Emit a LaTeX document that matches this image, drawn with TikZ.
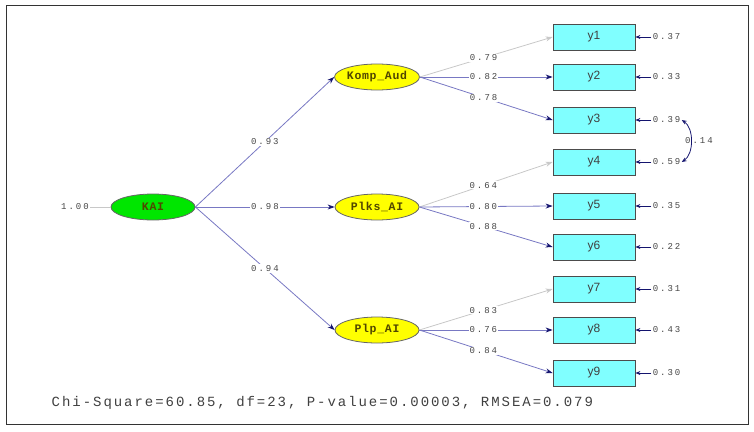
\documentclass[tikz,border=0pt]{standalone}
\usepackage{fontspec}
\setmonofont{Liberation Mono}
\newfontfamily\monosp[LetterSpace=22]{Liberation Mono}
\newfontfamily\monochi[LetterSpace=14]{Liberation Mono}
\newfontfamily\monoel[LetterSpace=6]{Liberation Mono}
\setsansfont{Liberation Sans}
\usetikzlibrary{arrows.meta,shapes.geometric}
\definecolor{ln}{RGB}{120,120,195}
\definecolor{gl}{RGB}{200,200,200}
\definecolor{tip}{RGB}{20,20,110}
\definecolor{txt}{RGB}{70,70,70}
\definecolor{box}{RGB}{128,255,255}
\definecolor{yel}{RGB}{255,255,0}
\definecolor{grn}{RGB}{0,230,0}
\definecolor{olv}{RGB}{80,70,0}
\begin{document}
\begin{tikzpicture}[x=1pt,y=-1pt,line width=0.8pt,
 lat/.style={ellipse,draw=black!60,minimum width=84pt,minimum height=26pt,inner sep=0pt,font=\monoel\bfseries\fontsize{11.5}{12}\selectfont,text=olv},
 obs/.style={rectangle,draw=black!70,fill=box,minimum width=82pt,minimum height=26pt,inner sep=0pt,font=\sffamily\fontsize{12}{13}\selectfont,text=black!75},
 num/.style={font=\monosp\fontsize{9}{10}\selectfont,text=txt,fill=white,inner sep=1pt},
 pth/.style={draw=ln,-{Stealth[length=7pt,width=5pt,color=tip]}},
 fix/.style={draw=gl,-{Stealth[length=7pt,width=5pt,color=gl]}},
 err/.style={draw=tip,-{Stealth[length=5pt,width=4pt,color=tip]}}]
\useasboundingbox (0,0) rectangle (754,431);
\draw[black!80,line width=0.6pt] (6,5) rectangle (748,424);
\node[lat,fill=grn] (kai) at (153,207) {KAI};
\node[lat,fill=yel] (ka) at (377,77) {Komp\_Aud};
\node[lat,fill=yel] (pk) at (377,207) {Plks\_AI};
\node[lat,fill=yel] (pl) at (377,330) {Plp\_AI};
\foreach \i/\y in {1/37,2/77,3/120,4/162,5/206,6/247,7/289,8/330,9/373}
  \node[obs] (y\i) at (594,\y) {y\i};
\foreach \i/\v in {1/0.37,2/0.33,3/0.39,4/0.59,5/0.35,6/0.22,7/0.31,8/0.43,9/0.30}{
  \node[num,anchor=west] (e\i) at (y\i.east) [xshift=16pt] {\v};
  \draw[err] (e\i.west) -- (y\i.east);}
\node[num] (v) at (75,207) {1.00};
\draw[gl] (v.east) -- (kai.west);
\draw[pth] (kai.east) -- node[num,pos=0.5] {0.93} (ka.west);
\draw[pth] (kai.east) -- node[num,pos=0.5] {0.98} (pk.west);
\draw[pth] (kai.east) -- node[num,pos=0.5] {0.94} (pl.west);
\foreach \f/\a/\b/\c/\la/\lb/\lc in {ka/1/2/3/0.79/0.82/0.78,pk/4/5/6/0.64/0.80/0.88,pl/7/8/9/0.83/0.76/0.84}{
  \draw[fix] (\f.east) -- node[num,pos=0.48] {\la} (y\a.west);
  \draw[pth] (\f.east) -- node[num,pos=0.48] {\lb} (y\b.west);
  \draw[pth] (\f.east) -- node[num,pos=0.48] {\lc} (y\c.west);}
\draw[draw=tip,{Stealth[length=5pt,width=4pt]}-{Stealth[length=5pt,width=4pt]}] (e3.east) .. controls (694,128) and (694,154) .. (e4.east);
\node[num,fill=none] (c) at (699,141) {0.14};
\node[font=\monochi\fontsize{14}{15}\selectfont,text=black!75,anchor=west] (chi) at (48,403) {Chi-Square=60.85, df=23, P-value=0.00003, RMSEA=0.079};
\end{tikzpicture}
\end{document}
